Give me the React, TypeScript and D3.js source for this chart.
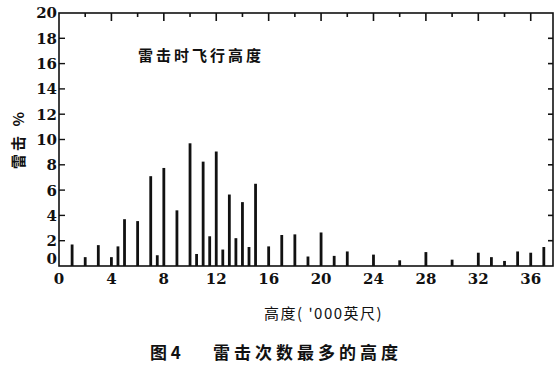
import React from "react";
import * as d3 from "d3";

const altitudes = [1, 2, 3, 4, 4.5, 5, 6, 7, 7.5, 8, 9, 10, 10.5, 11, 11.5, 12, 12.5, 13, 13.5, 14, 14.5, 15, 16, 17, 18, 19, 20, 21, 22, 24, 26, 28, 30, 32, 33, 34, 35, 36, 37];
const percents = [1.7, 0.7, 1.65, 0.7, 1.55, 3.7, 3.55, 7.1, 0.85, 7.75, 4.4, 9.7, 0.95, 8.25, 2.35, 9.05, 1.3, 5.65, 2.2, 5.05, 1.5, 6.5, 1.55, 2.45, 2.5, 0.75, 2.65, 0.8, 1.15, 0.9, 0.45, 1.1, 0.5, 1.05, 0.7, 0.4, 1.15, 1.05, 1.5];
const xTickValues = [0, 4, 8, 12, 16, 20, 24, 28, 32, 36];
const yTickValues = [0, 2, 4, 6, 8, 10, 12, 14, 16, 18, 20];
const topTickValues = d3.range(2, 37, 2);
const annotation = "雷击时飞行高度";
const yTitle = "雷击 %";
const xTitle = "高度(\u00a0'000英尺)";
const captionFig = "图\u00a04";
const captionText = "雷击次数最多的高度";

const W = 556;
const H = 371;
const L = 59, R = 553, T = 13, B = 266;

export default function App() {
  const x = d3.scaleLinear().domain([0, 37.7]).range([L, R]);
  const y = d3.scaleLinear().domain([0, 20]).range([B, T]);
  const numFont = "'DejaVu Serif', 'Liberation Serif', serif";
  const cjk = "'Noto Sans CJK SC', sans-serif";
  return (
    <svg width={W} height={H} style={{ position: "absolute", left: 0, top: 0, background: "#fff" }}>
      <rect x={L} y={T} width={R - L} height={B - T} fill="none" stroke="#111" strokeWidth={1.6} />
      {yTickValues.filter(v => v > 0 && v < 20).map(v => (
        <line key={"l" + v} x1={L} x2={L + 6} y1={y(v)} y2={y(v)} stroke="#111" strokeWidth={1.4} />
      ))}
      {yTickValues.filter(v => v > 0 && v < 20).map(v => (
        <line key={"r" + v} x1={R - 5} x2={R} y1={y(v)} y2={y(v)} stroke="#111" strokeWidth={1.6} />
      ))}
      {topTickValues.map(v => (
        <line key={"t" + v} x1={x(v)} x2={x(v)} y1={T} y2={T + (v % 4 === 0 ? 8 : 4)} stroke="#111" strokeWidth={1.6} />
      ))}
      {yTickValues.map(v => (
        <text key={"yl" + v} x={57} y={y(v) + (v === 0 ? -7 : 0)} dy="0.36em" textAnchor="end"
          fontFamily={numFont} fontWeight="bold" fontSize={15} fill="#111">{v}</text>
      ))}
      {xTickValues.map(v => (
        <text key={"xl" + v} x={x(v)} y={284} textAnchor="middle"
          fontFamily={numFont} fontWeight="bold" fontSize={15} fill="#111">{v}</text>
      ))}
      {altitudes.map((a, i) => (
        <rect key={"b" + i} x={x(a) - 1.4} y={y(percents[i])} width={2.8} height={B - y(percents[i])} fill="#111" />
      ))}
      <text x={138} y={61} fontFamily={cjk} fontWeight="bold" fontSize={15} letterSpacing={3} fill="#111">{annotation}</text>
      <text transform="translate(24,139) rotate(-90)" textAnchor="middle" fontFamily={cjk} fontWeight="bold" fontSize={15} letterSpacing={3} fill="#111">{yTitle}</text>
      <text x={264} y={319} fontFamily={cjk} fontSize={15} letterSpacing={1.5} fill="#111">{xTitle}</text>
      <text x={150} y={359} fontFamily={cjk} fontWeight="bold" fontSize={17} fill="#111">{captionFig}</text>
      <text x={213} y={359} fontFamily={cjk} fontWeight="bold" fontSize={17} letterSpacing={4} fill="#111">{captionText}</text>
    </svg>
  );
}
